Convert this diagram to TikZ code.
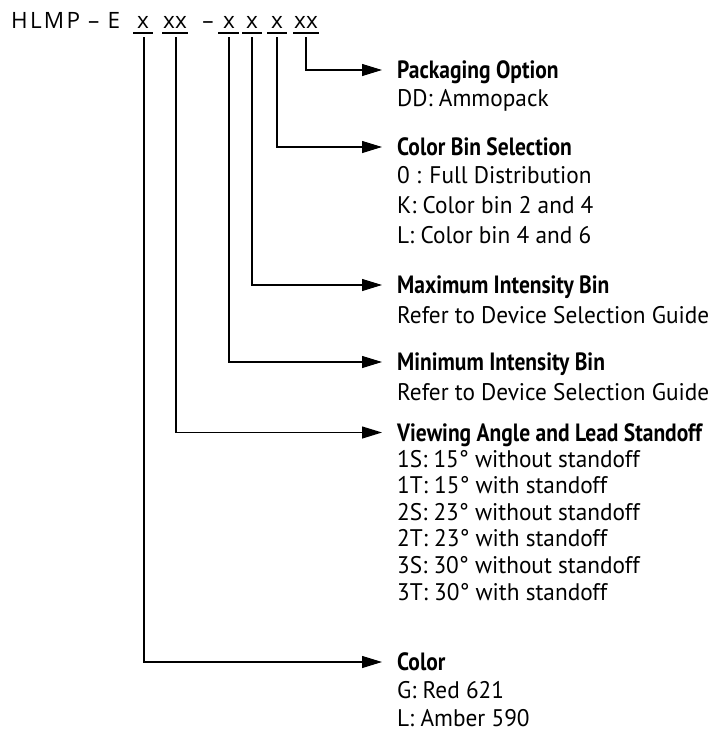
\documentclass[tikz,border=0pt]{standalone}
\usepackage{fontspec}
\setmainfont[FakeStretch=0.97]{PT Sans}
\newfontfamily\headfont[FakeStretch=0.86]{PT Sans}
\newfontfamily\titlefont[LetterSpace=10]{Open Sans}
\newfontfamily\xfont{Open Sans}
\usetikzlibrary{arrows.meta}
\begin{document}
\begin{tikzpicture}[x=1pt,y=-1pt,
  conn/.style={line width=1.1pt,-{Triangle[length=20pt,width=12pt]}},
  uline/.style={line width=1.1pt},
  head/.style={anchor=base west,inner sep=0pt,font=\headfont\bfseries\fontsize{25}{25}\selectfont},
  body/.style={anchor=base west,inner sep=0pt,font=\fontsize{24}{24}\selectfont},
  ttl/.style={anchor=base west,inner sep=0pt,font=\titlefont\fontsize{22.5}{22.5}\selectfont},
  xch/.style={anchor=base,inner sep=0pt,font=\xfont\fontsize{22.5}{22.5}\selectfont}]
\useasboundingbox (0,0) rectangle (718,734);
% title
\node[ttl] (pre) at (11,28.5) {HLMP – E};
\node[xch] (g1) at (143,28.5) {x};
\node[xch] (g2) at (175,28.5) {xx};
\node[xch] (dash) at (208,28.5) {–};
\node[xch] (g3) at (229,28.5) {x};
\node[xch] (g4) at (252,28.5) {x};
\node[xch] (g5) at (277,28.5) {x};
\node[xch] (g6) at (306,28.5) {xx};
% underlines
\draw[uline] (133,33) -- (153,33);
\draw[uline] (162,33) -- (188,33);
\draw[uline] (218,33) -- (239,33);
\draw[uline] (242,33) -- (262,33);
\draw[uline] (267,33) -- (287,33);
\draw[uline] (293,33) -- (319,33);
% connector starts
\coordinate (s1) at (144,37);
\coordinate (s2) at (176,37);
\coordinate (s3) at (229,37);
\coordinate (s4) at (252,37);
\coordinate (s5) at (277,37);
\coordinate (s6) at (306,37);
% headings and bodies
\node[head] (h6) at (397,78.5) {Packaging Option};
\node[body] (b61) at (397,106.5) {DD: Ammopack};
\node[head] (h5) at (397,155.5) {Color Bin Selection};
\node[body] (b51) at (397,183.5) {0 : Full Distribution};
\node[body] (b52) at (397,213) {K: Color bin 2 and 4};
\node[body] (b53) at (397,243) {L: Color bin 4 and 6};
\node[head] (h4) at (397,293.5) {Maximum Intensity Bin};
\node[body] (b41) at (397,323) {Refer to Device Selection Guide};
\node[head] (h3) at (397,370.5) {Minimum Intensity Bin};
\node[body] (b31) at (397,400) {Refer to Device Selection Guide};
\node[head] (h2) at (397,441) {Viewing Angle and Lead Standoff};
\node[body] (b21) at (397,467) {1S: 15° without standoff};
\node[body] (b22) at (397,493.5) {1T: 15° with standoff};
\node[body] (b23) at (397,520) {2S: 23° without standoff};
\node[body] (b24) at (397,546.5) {2T: 23° with standoff};
\node[body] (b25) at (397,573) {3S: 30° without standoff};
\node[body] (b26) at (397,600) {3T: 30° with standoff};
\node[head] (h1) at (397,670.5) {Color};
\node[body] (b11) at (397,698.5) {G: Red 621};
\node[body] (b12) at (397,726.5) {L: Amber 590};
% connectors
\foreach \i in {1,...,6}{
  \draw[conn] (s\i) |- ([xshift=-15pt,yshift=8.5pt]h\i.base west);
}
\end{tikzpicture}
\end{document}
